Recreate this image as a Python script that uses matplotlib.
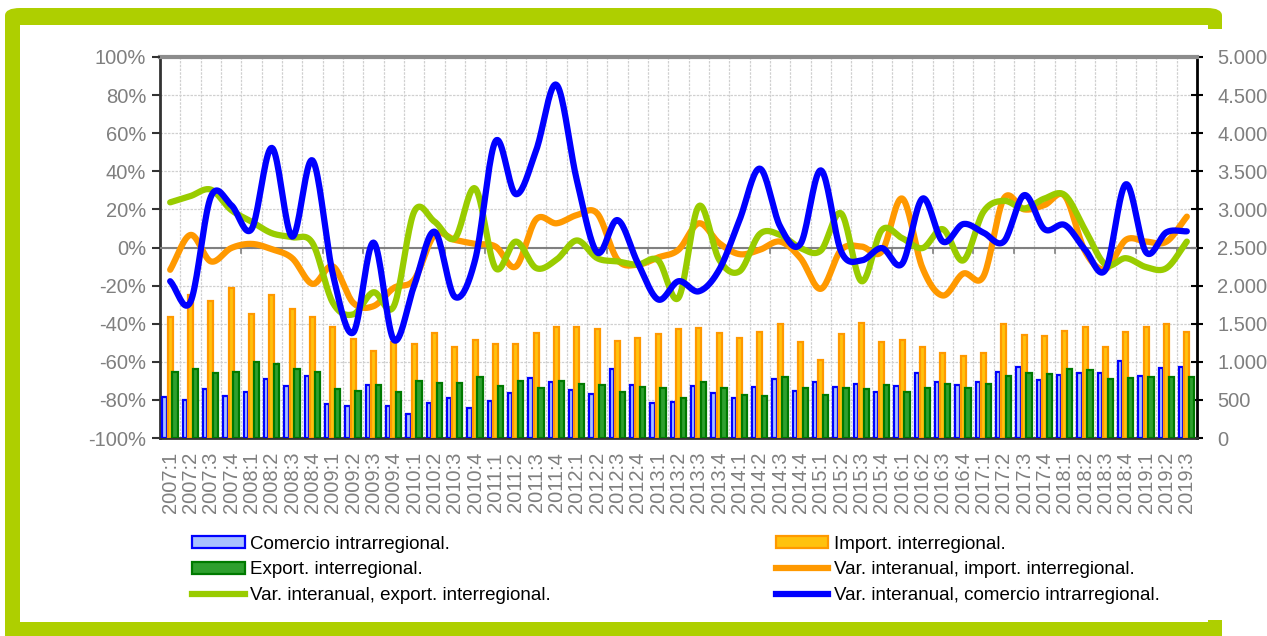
import numpy as np
import matplotlib
matplotlib.use("Agg")
import matplotlib.pyplot as plt
from matplotlib.patches import FancyBboxPatch, Patch, Rectangle
from matplotlib.lines import Line2D
from matplotlib.ticker import FuncFormatter, MultipleLocator

plt.rcParams['font.family'] = ['Liberation Sans', 'DejaVu Sans']

# ---------------- data ----------------
years = list(range(2007, 2020))
categories = [f"{y}:{q}" for y in years for q in (1, 2, 3, 4)][:51]

comercio_intra = [542, 499, 643, 551, 599, 770, 682, 818, 446, 420, 696, 420, 311, 464, 521, 389, 490,
                  595, 783, 739, 630, 577, 901, 691, 455, 468, 687, 586, 521, 674, 770, 612, 731, 665, 709,
                  608, 682, 849, 739, 691, 739, 871, 936, 761, 827, 849, 849, 1015, 814, 923, 927]
import_inter = [1584, 1877, 1802, 1964, 1623, 1877, 1689, 1584, 1461, 1299, 1146, 1264, 1234, 1374, 1199, 1282, 1234,
                1234, 1374, 1452, 1452, 1435, 1269, 1317, 1369, 1426, 1439, 1374, 1312, 1391, 1500, 1264, 1019, 1360, 1505,
                1264, 1286, 1190, 1120, 1076, 1120, 1496, 1347, 1339, 1409, 1452, 1190, 1387, 1452, 1500, 1387]
export_inter = [866, 910, 849, 862, 1002, 971, 906, 866, 643, 617, 691, 604, 752, 717, 726, 796, 682,
                752, 652, 752, 704, 700, 608, 674, 656, 521, 739, 652, 569, 551, 796, 652, 560, 656,
                647, 696, 604, 652, 709, 656, 709, 818, 857, 836, 906, 892, 779, 792, 805, 801, 805]

var_import = [-11.7, 6.6, -7.3, -0.3, 1.9, -0.9, -5.6, -19.1, -9.9, -29.0, -30.8, -21.2, -16.9, 6.6, 4.0, 1.9, 0.5,
              -10.0, 14.8, 12.7, 17.0, 17.9, -6.4, -9.0, -5.2, -1.2, 12.7, 2.3, -3.5, -1.2, 3.1, -5.6, -21.7, -1.2,
              0.5, -2.1, 25.7, -10.8, -25.2, -13.7, -15.1, 25.7, 20.0, 22.3, 27.0, -2.1, -11.3, 4.0, 3.1, 3.1, 16.2]
var_export = [23.7, 27.0, 30.4, 19.7, 13.6, 7.5, 5.4, 2.3, -29.0, -35.1, -23.5, -30.8, 18.8, 13.6, 4.9, 31.0, -10.8,
              3.1, -10.8, -6.4, 3.7, -5.6, -7.3, -9.0, -6.8, -26.4, 21.7, -6.4, -12.5, 7.1, 6.6, -0.3, -1.6, 17.9,
              -17.7, 9.2, 4.9, -0.3, 9.6, -6.8, 18.8, 24.5, 20.5, 25.7, 27.5, 9.2, -9.0, -5.6, -10.3, -10.8, 3.1]
var_intra = [-17.7, -28.5, 26.6, 22.3, 9.6, 52.3, 5.7, 45.7, -14.0, -44.7, 2.6, -48.5, -20.0, 8.3, -25.9, -6.4, 55.8,
             28.0, 51.0, 85.4, 35.3, -2.6, 14.4, -8.2, -27.3, -17.7, -23.0, -11.7, 14.4, 41.4, 11.0, 1.9, 40.5, -2.1,
             -6.8, -0.3, -8.5, 25.7, 3.1, 12.3, 7.8, 3.1, 27.5, 9.6, 11.8, -1.2, -11.7, 33.2, -2.6, 8.0, 8.5]

legend_labels = ["Comercio intrarregional.", "Import. interregional.", "Export. interregional.",
                 "Var. interanual, import. interregional.", "Var. interanual, export. interregional.",
                 "Var. interanual, comercio intrarregional."]

# ---------------- style ----------------
BLUE, BLUE_F = "#0000FF", "#A8C0FF"
ORANGE, ORANGE_F = "#FF9900", "#FFC20E"
GREEN, GREEN_F = "#007A00", "#2FA02F"
LGREEN = "#99CC00"
FRAME = "#AECF00"
GRAY = "#7F7F7F"


def smooth(x, y, n=20):
    """Catmull-Rom rendering of a line through the data points."""
    x = np.asarray(x, float)
    y = np.asarray(y, float)
    px = np.concatenate([[2 * x[0] - x[1]], x, [2 * x[-1] - x[-2]]])
    py = np.concatenate([[2 * y[0] - y[1]], y, [2 * y[-1] - y[-2]]])
    xs, ys = [], []
    t = np.linspace(0, 1, n, endpoint=False)
    for i in range(1, len(px) - 2):
        for arr, out in ((px, xs), (py, ys)):
            p0, p1, p2, p3 = arr[i - 1], arr[i], arr[i + 1], arr[i + 2]
            out.extend(0.5 * ((2 * p1) + (-p0 + p2) * t + (2 * p0 - 5 * p1 + 4 * p2 - p3) * t ** 2
                              + (-p0 + 3 * p1 - 3 * p2 + p3) * t ** 3))
    xs.append(x[-1]); ys.append(y[-1])
    return np.array(xs), np.array(ys)


W, H = 1267, 636
fig = plt.figure(figsize=(W / 100, H / 100), dpi=100)
fig.patch.set_facecolor("white")


def fx(px):
    return px / W


def fy(py):
    return 1 - py / H


# green frame and white panels
fig.add_artist(FancyBboxPatch((fx(5), fy(650)), fx(1222) - fx(5), fy(8) - fy(650),
                              boxstyle="round,pad=0,rounding_size=0.012",
                              transform=fig.transFigure, facecolor=FRAME, edgecolor="none", zorder=0))
fig.add_artist(Rectangle((fx(20), fy(622)), fx(1208) - fx(20), fy(25) - fy(622),
                         transform=fig.transFigure, facecolor="white", edgecolor="none", zorder=0.5))
fig.add_artist(Rectangle((fx(76), fy(620)), fx(1267) - fx(76), fy(29) - fy(620),
                         transform=fig.transFigure, facecolor="white", edgecolor="none", zorder=0.6))

left, right, top, bottom = 160, 1197, 57, 438
ax = fig.add_axes([fx(left), fy(bottom), fx(right) - fx(left), fy(top) - fy(bottom)])
ax.set_zorder(1)
ax.patch.set_alpha(0)
n = len(categories)
x = np.arange(n)

ax.bar(x - 0.28, comercio_intra, width=0.2, color=BLUE_F, edgecolor=BLUE, linewidth=1.6, zorder=3)
ax.bar(x, import_inter, width=0.26, color=ORANGE_F, edgecolor=ORANGE, linewidth=1.6, zorder=3)
ax.bar(x + 0.24, export_inter, width=0.26, color=GREEN_F, edgecolor=GREEN, linewidth=1.6, zorder=4)
ax.set_ylim(0, 5000)
ax.set_xlim(-0.5, n - 0.5)
ax.set_xticks(x)
ax.set_xticklabels(categories, rotation=90, fontsize=14.5, color=GRAY)
ax.tick_params(axis="x", length=0, pad=10)
ax.set_xticks(np.arange(-0.5, n, 1), minor=True)
ax.tick_params(axis="x", which="minor", length=0)

ax2 = ax.twinx()
ax2.set_zorder(2)
ax2.patch.set_alpha(0)
ax2.yaxis.tick_left()
ax2.set_ylim(-100, 100)
ax2.yaxis.set_major_locator(MultipleLocator(20))
ax2.yaxis.set_major_formatter(FuncFormatter(lambda v, p: f"{int(round(v))}%"))
ax2.tick_params(axis="y", direction="out", length=6, width=1.5, color="#333333",
                labelsize=14.5, labelcolor=GRAY, pad=4)
for s in ax2.spines.values():
    s.set_visible(False)

# right axis for the bars (set after twinx, which resets ticks to the left)
ax.yaxis.tick_right()
ax.yaxis.set_major_locator(MultipleLocator(500))
ax.yaxis.set_major_formatter(FuncFormatter(lambda v, p: f"{int(v):,}".replace(",", ".")))
ax.tick_params(axis="y", which="major", direction="inout", length=9, width=1.5, color="black",
               labelsize=14.5, labelcolor=GRAY, pad=10)
ax.grid(True, which="minor", axis="x", color="#D0D0D0", linestyle=(0, (2, 1)), linewidth=0.9, zorder=0)
ax.grid(True, which="major", axis="y", color="#D0D0D0", linestyle=(0, (2, 1)), linewidth=0.9, zorder=0)

ax.spines["top"].set_color("#8C8C8C"); ax.spines["top"].set_linewidth(3)
ax.spines["bottom"].set_color("#333333"); ax.spines["bottom"].set_linewidth(2)
ax.spines["left"].set_color("#333333"); ax.spines["left"].set_linewidth(2)
ax.spines["right"].set_color("black"); ax.spines["right"].set_linewidth(2)

# category axis at 0% with small ticks every two categories
ax2.axhline(0, color="#808080", linewidth=1.5, zorder=1)
for b in np.arange(1.5, n, 2):
    ax2.plot([b, b], [0, -3], color="#808080", linewidth=1.2, zorder=1)

for vals, col in ((var_import, ORANGE), (var_export, LGREEN), (var_intra, BLUE)):
    sx, sy = smooth(x, vals)
    ax2.plot(sx, sy, color=col, linewidth=4.5, solid_capstyle="round", zorder=5)

handles = [
    Patch(facecolor=BLUE_F, edgecolor=BLUE, linewidth=1.6),
    Patch(facecolor=GREEN_F, edgecolor=GREEN, linewidth=1.6),
    Line2D([0], [0], color=LGREEN, linewidth=4.5),
    Patch(facecolor=ORANGE_F, edgecolor=ORANGE, linewidth=1.6),
    Line2D([0], [0], color=ORANGE, linewidth=4.5),
    Line2D([0], [0], color=BLUE, linewidth=4.5),
]
labels = [legend_labels[0], legend_labels[2], legend_labels[4],
          legend_labels[1], legend_labels[3], legend_labels[5]]
leg = fig.legend(handles, labels, ncol=2, loc="upper left", bbox_to_anchor=(fx(192), fy(536)),
                 frameon=False, fontsize=13.5, handlelength=2.8, handleheight=0.6, handletextpad=0.3,
                 columnspacing=12.0, labelspacing=0.45, borderpad=0, borderaxespad=0)

fig.savefig("out.png", dpi=100, facecolor="white")
